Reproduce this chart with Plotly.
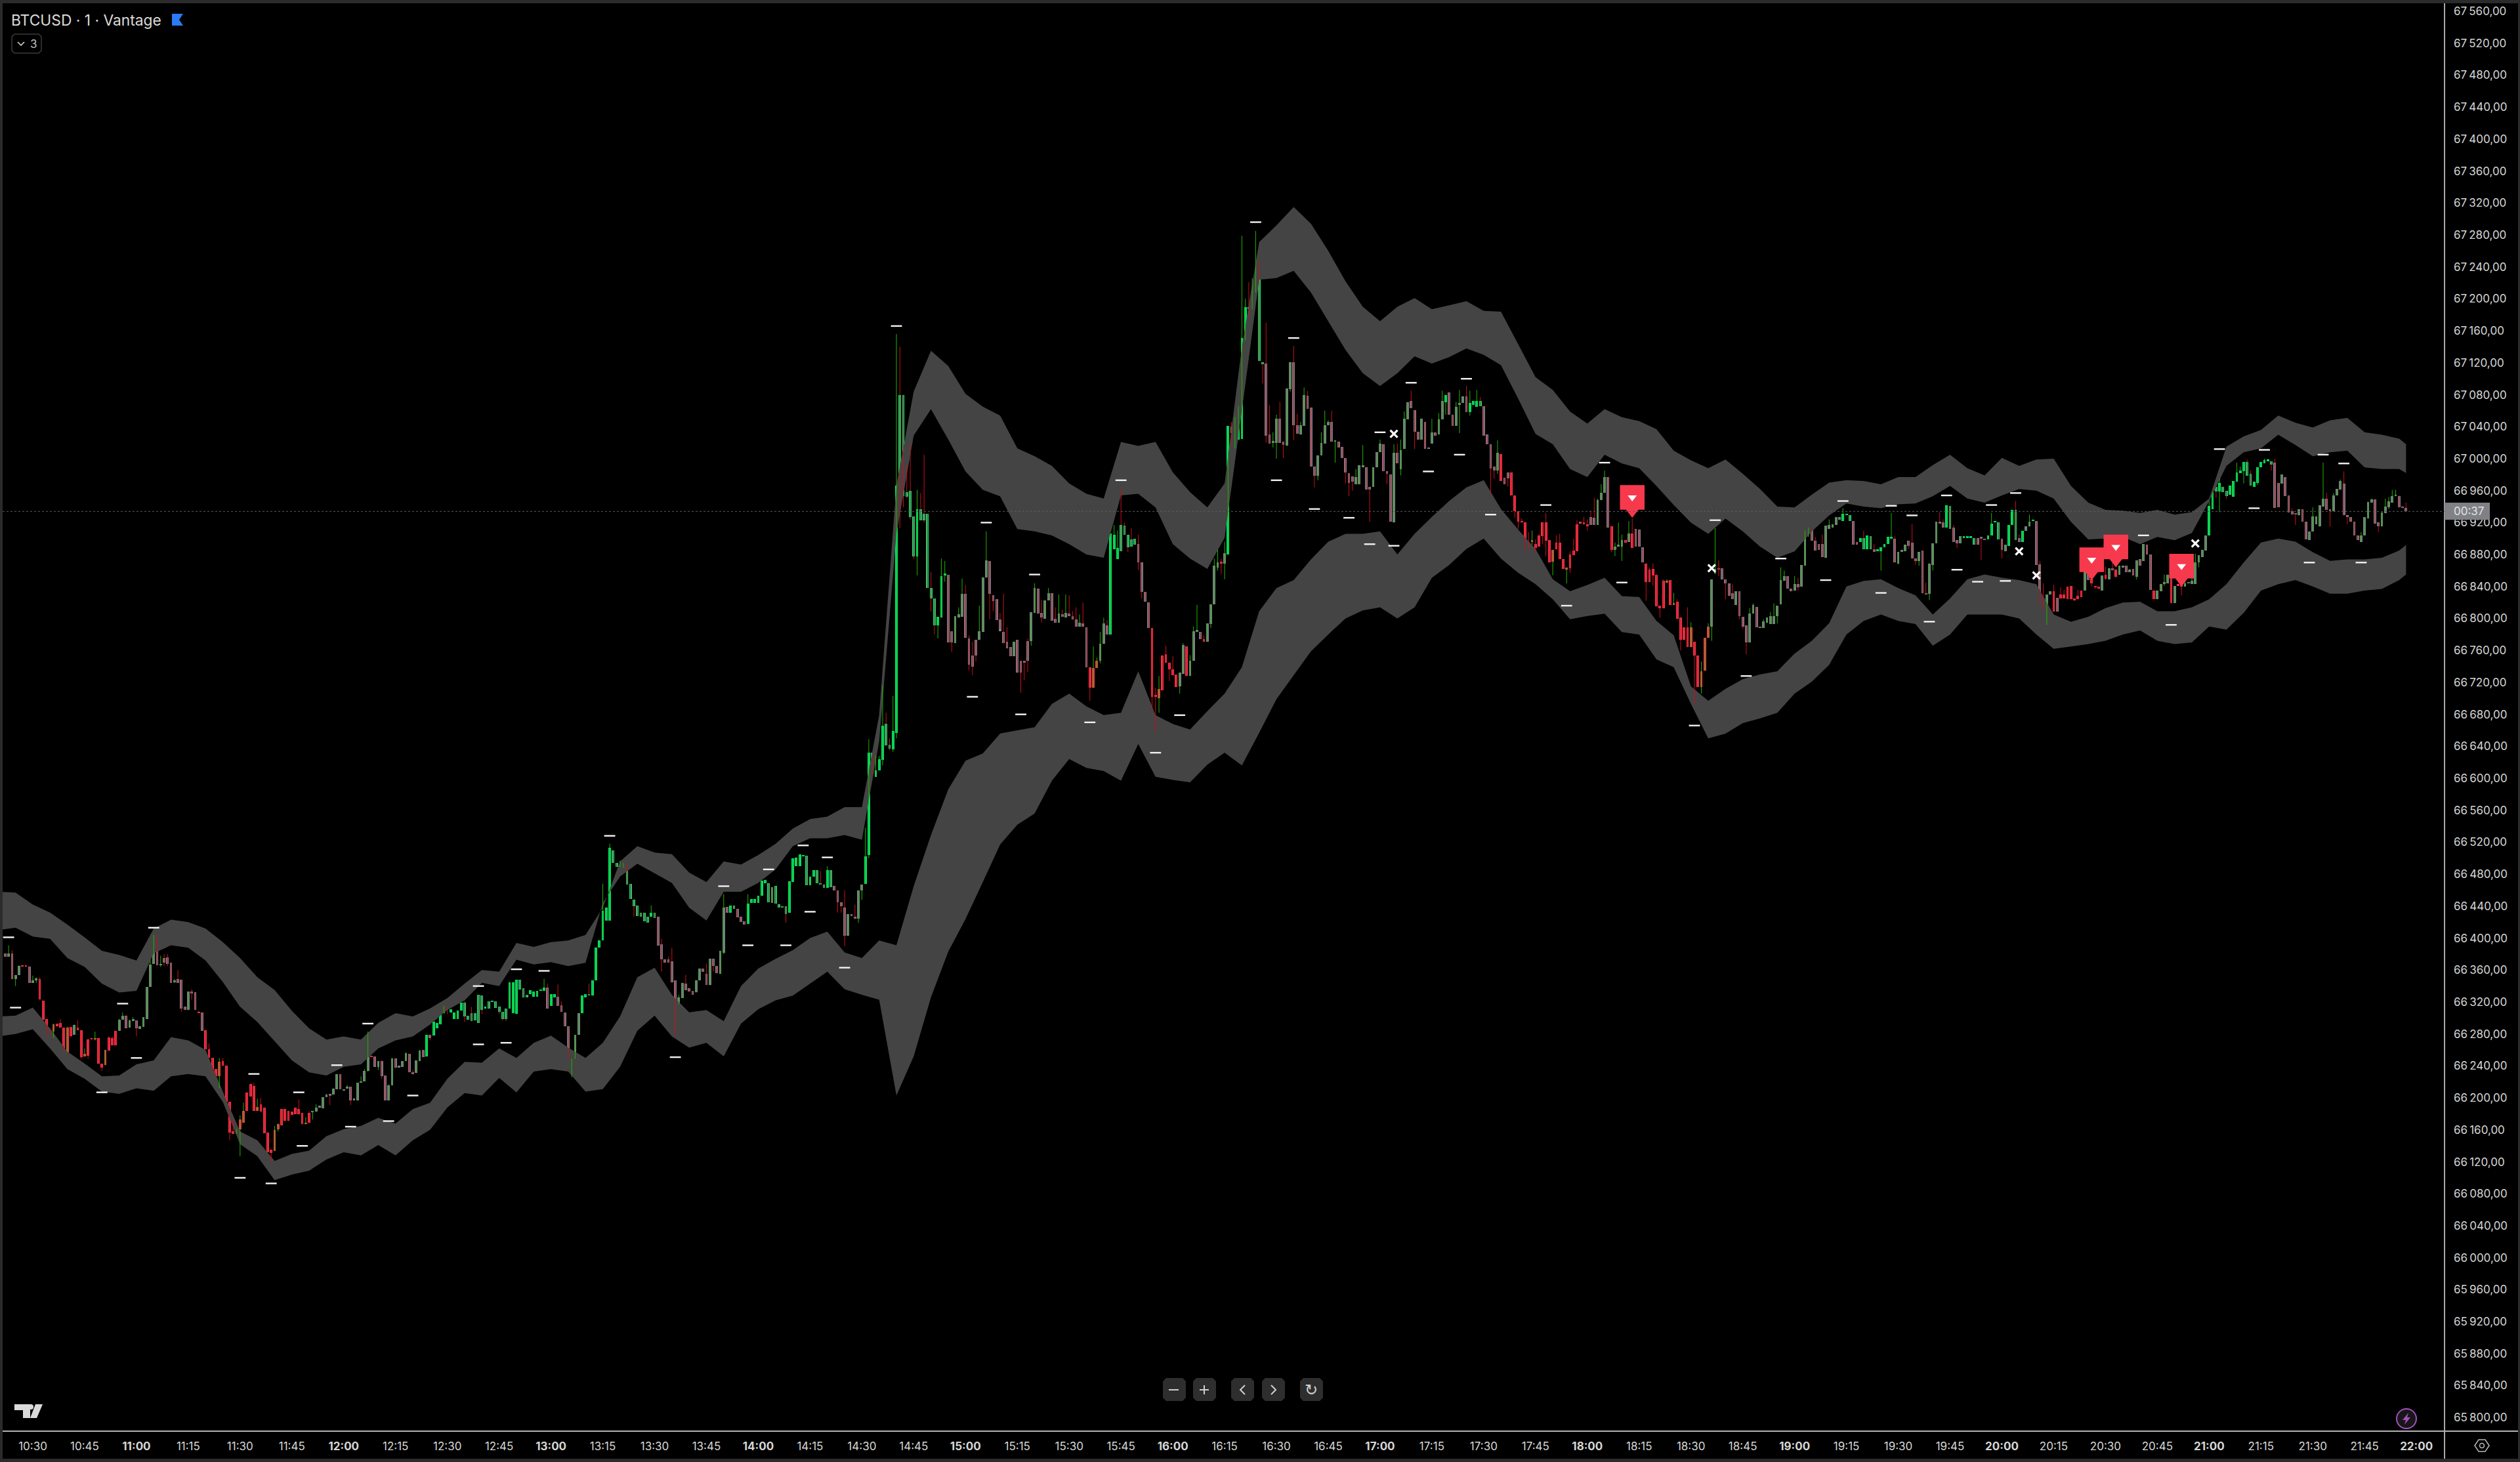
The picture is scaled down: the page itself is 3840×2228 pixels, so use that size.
import plotly.graph_objects as go

BASE = 66000  # all prices below are dollars above this base
G, R, N = "g", "r", "n"
LAST_PRICE = 66934
COUNTDOWN = "00:37"

# 1-minute candles per session: (open, close, body kind[, high[, low]]); high 0 = body top
start_10 = -8
h10 = [(381,377,N),(377,381,N,391),(381,349,N,385),(349,354,N,0,340),(354,365,N,366),(365,364,R),(365,364,R),(364,344,N,365),(344,347,N,353),(347,350,N,351,344),(349,323,R,351),(322,298,R),(299,277,R),(284,278,R,286),(283,292,R,293,275),(293,290,R),(294,288,R,299),(288,257,R),(257,288,R,289),(289,277,R,0,276),(279,291,N,292),(288,285,R,297),(285,251,R,0,249),(252,255,R,262),(273,253,R,274,249),(274,273,R),(273,274,R,283,272),(275,243,R),(243,238,R,0,234),(241,260,R),(276,259,R,277),(275,266,R,277),(284,266,R),(284,298,N,299),(298,303,N,307),(303,287,N,304),(288,297,N,298),(296,299,N,301)]
h11 = [(297,287,N,0,277),(286,290,N),(289,301,N),(299,339,N),(339,367,N,372),(368,400,N,404),(399,366,N,403),(366,367,N,378,364),(375,369,N,380,365),(376,368,N,380,365),(369,344,N),(345,347,N,349,344),(349,344,N,360),(348,312,N,0,308),(314,310,N),(310,333,N),(333,331,N,336,323),(332,310,N),(308,306,R,309),(307,284,N),(285,261,R),(261,250,R,268),(250,234,R,0,231),(236,227,R),(227,245,R,250,212),(246,240,R,250),(240,195,R),(195,157,R,0,147),(158,155,R,173),(155,161,R),(161,173,R,178,127),(169,184,R,194),(207,184,R),(217,202,R,218),(215,184,R,219),(184,189,R,199),(192,183,R,200),(188,156,R),(157,132,R),(135,131,R,0,120),(134,160,R,165),(161,167,R,168,158),(186,166,R),(186,171,R),(184,171,R),(183,179,R),(188,180,R),(186,180,R,198),(181,167,R),(167,169,R,176),(181,169,R,183),(182,184,N,0,173),(183,188,N,192),(188,188,N),(187,201,N),(201,204,N,205),(204,203,N,0,191),(204,212,N),(211,230,N),(230,211,N)]
h12 = [(209,211,N),(212,213,N,216),(214,197,N,0,191),(197,198,N),(197,219,N),(219,221,N,227),(221,234,N,236),(234,253,N,283,233),(252,251,R,253),(252,239,N),(239,246,N,0,235),(246,227,N,247,224),(228,197,N),(197,216,N,217),(216,249,N,250),(249,238,N,0,237),(238,239,N),(239,246,N),(246,256,N,257),(255,232,N),(232,230,N,235),(231,247,N),(246,259,N,260),(260,251,N),(252,279,G),(279,275,N,0,272),(278,295,G),(287,294,G),(292,304,G),(306,313,G,315),(312,311,N,314,305),(307,311,G),(299,307,G),(299,309,G),(309,319,G),(319,302,G,321,295),(303,298,G),(306,296,G,314),(306,297,G),(329,294,G),(328,310,G,0,305),(312,312,G),(321,312,G),(321,320,G),(321,313,G),(314,308,G,0,305),(308,299,G,0,297),(312,299,G,0,296),(312,345,G),(306,345,G),(305,348,G),(348,336,G),(337,326,G),(329,326,G),(330,335,G),(327,333,G),(327,334,G),(334,335,G),(334,338,G,349),(338,312,N,343)]
h13 = [(315,330,G),(326,330,G),(327,315,N,342),(316,308,N,321),(307,290,N),(290,248,N),(248,249,N,0,226),(249,279,N),(279,306,N),(306,328,G),(326,330,G),(330,328,G,343),(328,347,G),(347,388,G),(388,397,G),(397,434,G,468),(422,438,G),(422,513,G,518),(510,494,G),(494,489,G),(489,490,G,497),(488,494,G),(492,467,G),(468,449,G),(448,440,G,0,427),(441,428,G),(432,427,G),(432,421,G),(427,419,G),(427,432,G,441),(432,425,G),(427,391,N),(392,373,N,399,358),(373,369,N),(373,369,N,377),(371,345,N,388),(347,317,N,0,278),(317,326,N,329),(325,344,N),(343,335,N,354),(337,333,N),(334,329,N),(332,347,N),(347,362,N),(362,358,N),(355,341,N,368),(341,374,N),(374,365,N,0,358),(365,356,N),(355,384,N),(382,438,N,455,380),(439,432,N),(432,441,G),(441,437,G),(437,426,N),(427,420,N),(421,417,N),(418,443,G,455),(444,449,G),(444,449,G)]
h14 = [(444,453,G),(453,472,G),(469,473,G),(469,445,G),(464,444,G),(465,443,G),(442,438,G),(440,438,G),(440,430,G,0,419),(432,471,G),(470,500,G),(490,501,G),(490,505,G),(502,504,G),(503,466,G),(466,477,G),(477,485,G),(485,469,G),(469,467,G,484),(467,463,G),(463,485,G,490),(485,464,G),(465,460,N),(460,445,N,0,432),(445,440,N,0,432),(438,403,N,460,390),(403,430,N),(430,428,N),(427,424,N,442),(424,460,N,0,419),(460,467,N,0,448),(468,502,G,538),(504,632,G,649,500),(632,608,G,0,603),(602,610,G,628),(610,624,G,628),(623,666,G,716,616),(668,641,G,682),(642,637,G,650,635),(636,659,G,703,633),(657,966,G,1156,650),(1080,971,G,1140,913),(1080,953,G,0,939),(958,952,G,993,950),(960,927,G,1019,924),(928,878,G,0,874),(878,937,G,961,854),(937,923,G,957),(931,923,G,1005,920),(931,838,G),(838,825,G,858,809),(825,791,G,0,780),(791,802,G,0,775),(801,853,G,875),(854,856,G,872,846),(855,770,N),(784,770,N,0,758),(769,803,N),(801,805,N,814),(802,831,N,850)]
h15 = [(831,776,N,842),(775,742,N,779,735),(754,740,N,771,729),(773,754,N,0,746),(773,784,N,816),(783,851,N),(851,873,N,909),(872,831,N,0,799),(829,822,N,0,809),(824,798,N),(799,784,N,807,787),(783,769,N,831),(771,763,N,789),(764,753,N),(753,771,N),(773,732,N),(747,732,N,0,707),(747,745,N,0,723),(772,747,N,775,733),(772,808,N,0,766),(807,838,N,844),(837,806,N),(807,801,N,823,795),(800,823,N),(823,832,N,838),(832,797,N),(800,795,N,814),(795,806,N,830),(805,802,N,811),(801,807,N,830),(806,803,N,829),(803,799,N,809),(799,790,N,814),(790,795,N,805),(794,790,N,820),(789,739,N),(739,713,R,0,697),(713,738,R,765),(738,747,R,751),(747,768,N,783,744),(768,794,N,801),(791,780,N,798),(780,906,G),(887,905,G,917),(874,888,G,910),(917,884,G,962),(916,905,G,920),(905,889,G,0,883),(899,890,G,913),(900,892,G),(893,870,N,905,861),(870,833,N,0,825),(833,821,N),(820,788,N),(788,702,R,0,686),(704,702,R,713,658),(700,712,R,728,682),(754,710,R),(755,745,R,766),(745,736,R,0,722)]
h16 = [(736,729,R,753),(730,714,R),(715,732,N,0,706),(731,767,N,769),(765,728,R),(728,747,N,754),(747,784,N,790),(783,786,N,817),(783,774,N),(774,771,R,779),(771,794,N),(793,818,N,0,788),(818,866,N,875),(864,870,N,886,860),(870,869,R,875,856),(869,882,N,896,849),(880,1041,G),(1040,1032,N,1046,1016),(1032,1052,G,0,1013),(1024,1051,G,1066),(1025,1151,G,1279),(1151,1190,G,1200,1148),(1190,1187,G,1221,1175),(1187,1209,G,1226),(1208,1233,G,1285),(1233,1122,G,1247),(1121,1118,G,0,1094),(1119,1029,N,1170,1020),(1030,1019,N,1067),(1020,1020,N,1033,1014),(1020,1050,N,1055,1000),(1050,1020,N,1071),(1021,1017,N,0,1001),(1016,1088,N),(1087,1121,N,0,1084),(1121,1042,N,1141,1023),(1042,1031,N,1056),(1030,1042,N,1046),(1041,1080,N,1089),(1079,1062,N,1085),(1064,990,N),(990,979,N,0,964),(979,1004,N,0,973),(1004,1020,N,1033),(1019,1042,N,1060),(1042,1046,N,1048),(1046,1021,N,1060),(1021,1021,N,1023,995),(1021,1014,N),(1015,1001,N),(1001,983,N,0,969),(982,970,N,0,953),(978,971,N,0,960),(968,977,N,987),(968,992,N),(989,992,N,1017),(989,961,N),(965,961,N,0,921),(965,989,N),(989,1008,N)]
h17 = [(1008,1019,N,1024),(1018,984,N),(984,981,N,0,968),(980,921,N),(920,1007,N,1018),(1007,994,N,1019),(987,1011,N,1024,979),(1012,1050,N,1059),(1049,1071,N),(1072,1063,N,1085),(1061,1034,N,0,1012),(1034,1024,N),(1024,1050,N),(1046,1012,N),(1012,1014,N),(1019,1033,N,1050),(1033,1029,N),(1030,1049,N,1057),(1049,1072,N,1085),(1071,1080,G,0,1055),(1083,1055,N),(1055,1041,N),(1041,1065,N,1071),(1067,1070,N,1086,1032),(1070,1078,N),(1078,1058,N,1091),(1058,1070,G,1085,1054),(1067,1072,G),(1065,1072,G,1086),(1072,1066,G,1077),(1066,1029,N),(1030,1018,N),(1018,988,N,0,956),(990,985,N,0,975),(985,1007,N,1023,981),(1006,972,R),(976,968,N),(983,975,N,0,965),(983,954,R),(954,934,R,0,926),(934,921,R,0,912),(921,920,R,925),(920,886,R),(895,886,R,908),(896,896,R,910,892),(893,888,R,899,882),(904,890,R,906),(920,903,R,0,893),(920,897,R,932,878),(898,870,R),(871,886,R,0,854),(895,887,R,904),(895,874,R,906),(874,862,R),(861,864,R,0,844),(880,863,R,884,857),(885,879,R,900),(918,884,R,923),(919,919,R),(920,918,R,927)]
h18 = [(918,915,R,924,910),(927,917,N,935),(926,917,N,951),(917,948,N,950),(948,957,N,968),(957,977,N,985),(977,914,N),(915,886,R,0,883),(886,890,N,895,878),(890,890,N,920),(890,898,N,905,872),(898,895,R),(896,906,N,922),(906,888,R,925),(912,890,N),(911,890,N),(889,870,N),(869,846,R,0,822),(861,846,R,864),(862,854,R,869,841),(855,815,R),(816,813,R,0,801),(847,813,R,849),(845,847,R,849),(848,817,R),(817,818,R,832),(821,800,R,824),(801,773,R,0,760),(789,773,R),(789,764,R,814),(764,789,R,795),(771,754,R,0,693),(754,714,R),(714,734,R,746,706),(735,776,R),(776,790,R,794),(790,849,N,0,772),(856,862,N,913),(862,861,R,873,853),(863,849,N),(849,844,N,0,824),(844,828,N),(832,824,N,843),(817,834,N),(834,803,N,0,799),(802,790,N,0,787),(791,770,N,0,755),(770,806,N,813),(806,817,N,819),(814,789,N),(790,788,N),(788,796,N,799),(795,801,N),(793,803,N,808),(793,803,N,819),(803,816,N,0,794),(818,848,N,864),(847,853,N,860),(853,837,N),(837,834,N)]
h19 = [(835,843,N,853),(843,839,N,851,835),(840,867,N),(866,910,N),(909,912,N,914,902),(912,897,N),(897,885,N,902),(893,886,N),(893,877,N,905),(876,916,N),(912,917,N,924),(914,918,N),(917,927,N),(924,927,N),(922,931,G,938),(929,931,G),(929,922,G),(922,892,N),(896,892,N),(896,901,G),(901,887,G,910),(887,904,G),(903,887,G),(887,883,N,893),(884,887,G),(884,889,G,0,860),(889,893,G),(893,902,G),(900,902,G,932),(900,870,N,903),(869,883,N,0,868),(883,886,N),(884,892,N),(897,891,N,0,887),(895,875,N,918),(875,872,N,0,867),(872,883,N,0,866),(885,832,N),(832,830,N,845),(831,869,N,0,823),(867,894,N,0,860),(894,921,N),(921,919,N,933),(920,914,N,924),(914,942,G),(941,912,G),(914,896,N,917),(898,894,N,0,888),(894,903,N),(901,903,G),(901,903,G),(901,902,G),(901,892,G),(901,892,N),(902,900,N,0,873),(900,898,N),(899,904,G),(904,919,G,932),(920,920,G),(920,899,G)]
h20 = [(900,886,N,0,875),(884,892,N),(891,917,G),(917,936,G),(936,898,G,947),(901,896,N,905),(896,910,G),(910,915,N),(915,921,N,930),(922,922,G,924),(922,867,N),(868,825,N,872,817),(825,810,R,844),(811,830,N,0,792),(830,834,N),(834,809,R,842),(826,809,N),(830,825,R,839),(830,825,R,836),(840,824,R),(841,824,R),(825,823,R),(828,824,R,836),(835,827,R),(835,859,N),(859,848,N),(850,844,R,0,840),(841,839,R,0,837),(840,837,R),(835,854,N),(855,850,R,865,848),(849,863,N),(863,860,N,870),(861,852,R,0,851),(855,866,N),(864,866,N),(866,858,N),(858,861,N,862),(862,854,N),(852,873,N,0,849),(874,866,N),(872,893,N),(892,880,N),(880,836,N),(835,824,R),(824,835,N),(834,843,N),(843,846,N,855,841),(844,855,N),(851,819,R),(819,841,N),(841,841,R),(841,840,R,0,829),(840,844,N,867),(844,845,N),(843,847,N,851),(843,870,N,881),(870,879,N,0,864),(877,886,N),(885,904,N)]
h21 = [(904,941,G,947),(937,958,G),(965,959,G,0,951),(959,970,G,975,933),(965,958,G),(960,953,G,0,950),(955,966,G),(952,972,G),(971,983,G,995),(982,985,G,990),(984,996,G,0,969),(996,979,G,999),(981,966,G,985),(965,971,G),(970,989,G,0,967),(989,996,G),(994,998,G,1000),(997,997,G),(997,993,G,0,985),(995,938,N,1000),(970,939,N),(969,980,N),(977,953,N),(954,933,N),(934,930,N,938),(932,930,N,0,917),(929,937,N),(937,921,N),(921,899,N),(898,909,N),(909,928,N,939),(918,928,N),(915,942,N),(940,950,N,995),(950,936,N,957),(937,934,N,0,915),(934,954,N,957),(954,962,N),(961,972,N,974),(969,929,N,984),(928,927,N,0,918),(927,921,N),(921,904,N),(904,898,N),(896,904,N,908),(904,927,N),(925,946,N),(945,949,N,950),(949,919,N),(920,915,N,0,908),(915,933,N),(932,940,N,950),(939,947,N,952,937),(945,953,N,961),(953,953,N,961),(953,939,N,954),(939,938,N,941),(938,934,N,945)]

sessions = [(start_10, h10), (30, h11), (90, h12), (150, h13), (210, h14), (270, h15),
            (330, h16), (390, h17), (450, h18), (510, h19), (570, h20), (630, h21)]

# volatility band edges, sampled every 5 minutes from -10 to 685, then the last bar
band_minutes = list(range(-10, 690, 5)) + [687]
upper_top = [458,457,442,432,417,401,384,379,372,412,423,420,412,395,375,351,335,309,287,273,277,273,294,306,302,312,325,
             343,360,358,394,389,395,397,404,438,496,515,507,505,482,470,496,492,504,518,537,549,552,564,564,679,
             967,1084,1135,1116,1081,1065,1054,1013,1003,991,969,956,950,1021,1016,1021,983,958,939,969,
             1140,1271,1292,1315,1294,1260,1222,1190,1172,1190,1201,1187,1192,1197,1185,1184,1143,1102,1086,1059,1044,1062,1052,1047,
             1037,1010,998,988,999,981,962,940,939,955,970,973,972,968,977,977,992,1005,988,
             979,1001,991,999,1000,966,945,936,935,932,936,930,933,950,
             1015,1028,1036,1054,1045,1039,1048,1051,1033,1030,1025,1018]
upper_bot = [410,413,402,399,375,364,343,332,334,381,391,388,372,345,314,295,271,247,232,228,239,242,262,272,277,292,310,
             322,344,340,373,367,370,365,369,444,477,493,481,469,438,422,458,458,469,486,515,525,525,529,523,646,
             906,1029,1062,1024,984,961,953,912,909,904,893,880,876,954,956,939,893,875,862,901,
             1060,1224,1226,1235,1208,1172,1136,1107,1091,1107,1128,1119,1127,1138,1130,1117,1075,1031,1018,987,977,1005,994,988,
             966,942,920,906,925,909,890,876,884,909,929,944,940,938,943,944,953,966,950,
             945,954,962,960,950,921,899,900,902,893,902,898,907,947,
             991,1008,1013,1030,1017,1003,1008,1010,989,987,987,982]
lower_top = [302,303,313,287,258,243,227,228,242,247,276,272,260,208,158,147,121,130,134,152,161,165,175,168,186,194,224,
             245,244,262,250,269,278,263,250,269,302,351,363,329,307,310,296,340,362,374,385,400,408,382,375,397,
             391,465,529,586,622,631,656,660,664,693,706,690,679,682,734,679,668,661,684,706,
             739,809,838,848,874,896,906,906,909,880,906,927,947,964,973,937,911,887,849,834,842,851,828,827,
             797,779,715,697,712,724,730,734,756,772,794,840,847,849,838,829,805,825,849,
             855,851,848,843,805,796,802,813,820,821,809,809,814,824,
             843,870,895,900,896,883,872,874,874,876,885,892]
lower_bot = [277,280,286,262,236,224,208,205,212,209,227,230,227,195,142,127,97,104,109,123,132,128,141,128,147,160,188,
             206,203,225,207,233,236,233,208,211,239,284,303,277,263,269,252,293,311,322,328,343,358,336,329,323,
             203,252,326,383,424,470,517,542,556,597,624,613,609,597,643,602,598,595,617,632,
             616,657,699,729,759,780,800,810,814,800,814,851,867,887,900,875,857,843,824,799,803,806,783,780,
             749,739,693,650,656,669,675,682,706,721,742,780,797,805,797,793,766,780,805,
             805,805,800,780,762,765,768,772,780,785,772,768,770,790,
             786,807,835,843,848,840,831,831,835,837,848,855]

# pivot dashes (minute, price above base)
pivot_minutes = [-7,-5,26,30,35,20,64,77,60,69,78,88,92,97,103,110,129,129,137,140,148,167,186,200,207,213,218,223,225,230,235,250,276,290,315,272,286,306,325,332,354,365,360,371,381,390,387,394,399,404,413,415,422,438,455,460,444,481,487,496,506,519,524,535,538,544,549,554,557,563,574,567,571,611,619,633,646,643,663,669,659,674]
pivot_prices = [401,313,318,250,413,207,230,207,100,93,140,241,164,293,171,203,340,267,269,361,359,528,251,465,391,486,391,516,433,501,363,1166,920,855,973,702,680,670,632,679,1296,1151,973,937,926,1033,893,891,1095,984,1005,1100,930,942,995,845,816,666,923,728,875,848,947,832,941,929,796,954,861,846,957,942,847,904,792,1012,1011,938,1005,994,870,870]

cross_minutes = [394, 486, 575, 580, 626]
cross_prices = [1031, 863, 884, 854, 894]

flag_minutes = [463, 596, 603, 622]
flag_tips = [927, 849, 865, 841]

hours_ticks = list(range(0, 691, 15))
price_ticks = list(range(65800, 67561, 40))

W, H = 3840, 2228
L, RT, T, B = 4, 3725, 6, 2181
PW, PH = RT - L, B - T
xr = [(L - 50) / 5.264, (RT - 50) / 5.264]
yr = [BASE + 1574 - 0.8212 * B, BASE + 1574 - 0.8212 * T]


def px(x, y):
    return (x - L) / PW, 1 - (y - T) / PH


# build candle columns
xs, bases, sizes, cols, gw_x, gw_y, rw_x, rw_y = [], [], [], [], [], [], [], []
KIND = {G: "#00E676", R: "#F7364B", N: "#7C7F8A"}
for start, rows in sessions:
    for i, row in enumerate(rows):
        o, c, k = row[:3]
        hi = row[3] if len(row) > 3 and row[3] else max(o, c)
        lo = row[4] if len(row) > 4 and row[4] else min(o, c)
        m = start + i
        xs.append(m)
        bases.append(BASE + min(o, c))
        sizes.append(max(abs(c - o), 2))
        cols.append(KIND[k])
        wx, wy = (gw_x, gw_y) if c >= o else (rw_x, rw_y)
        wx += [m, m, None]
        wy += [BASE + hi, BASE + lo, None]

fig = go.Figure()
BAND = "#444444"
for top, bot in ((upper_top, upper_bot), (lower_top, lower_bot)):
    fig.add_trace(go.Scatter(
        x=band_minutes + band_minutes[::-1],
        y=[BASE + v for v in top] + [BASE + v for v in bot[::-1]],
        mode="lines", fill="toself", fillcolor=BAND, line=dict(width=0, color=BAND),
        hoverinfo="skip", showlegend=False))
fig.add_trace(go.Scatter(x=gw_x, y=gw_y, mode="lines", line=dict(color="#22B200", width=1),
                         hoverinfo="skip", showlegend=False))
fig.add_trace(go.Scatter(x=rw_x, y=rw_y, mode="lines", line=dict(color="#C8101C", width=1),
                         hoverinfo="skip", showlegend=False))
fig.add_trace(go.Bar(x=xs, y=sizes, base=bases, width=0.72, marker=dict(color=cols, line=dict(width=0)),
                     hoverinfo="skip", showlegend=False))
fig.add_trace(go.Scatter(x=pivot_minutes, y=[BASE + p for p in pivot_prices], mode="markers",
                         marker=dict(symbol="line-ew", size=12, line=dict(width=2.4, color="#F2F2F2")),
                         hoverinfo="skip", showlegend=False))
fig.add_trace(go.Scatter(x=cross_minutes, y=[BASE + p for p in cross_prices], mode="markers",
                         marker=dict(symbol="x-thin", size=11, line=dict(width=3.2, color="#FFFFFF")),
                         hoverinfo="skip", showlegend=False))
FLAG = "#F7394D"
fig.add_trace(go.Scatter(x=flag_minutes, y=[BASE + t + 9 for t in flag_tips], mode="markers",
                         marker=dict(symbol="triangle-down", size=24, color=FLAG),
                         hoverinfo="skip", showlegend=False))
fig.add_trace(go.Scatter(x=flag_minutes, y=[BASE + t + 24.5 for t in flag_tips], mode="markers",
                         marker=dict(symbol="square", size=36, color=FLAG, line=dict(width=1.5, color=FLAG)),
                         hoverinfo="skip", showlegend=False))
fig.add_trace(go.Scatter(x=flag_minutes, y=[BASE + t + 24.5 for t in flag_tips], mode="markers",
                         marker=dict(symbol="triangle-down", size=12, color="#FFFFFF"),
                         hoverinfo="skip", showlegend=False))

shapes = []


def rect(x0, y0, x1, y1, fill, line=None, layer="above"):
    a, b = px(x0, y0)
    c, d = px(x1, y1)
    shapes.append(dict(type="rect", xref="paper", yref="paper", x0=a, x1=c, y0=b, y1=d, fillcolor=fill,
                       line=dict(width=1.5 if line else 0, color=line or fill), layer=layer))


def path(points, stroke=None, fill=None, width=2, close=False):
    s = ""
    for i, (x, y) in enumerate(points):
        a, b = px(x, y)
        s += ("M" if i == 0 else "L") + f"{a:.6f},{b:.6f} "
    if close:
        s += "Z"
    shapes.append(dict(type="path", xref="paper", yref="paper", path=s, fillcolor=fill or "rgba(0,0,0,0)",
                       line=dict(width=width if stroke else 0, color=stroke or "rgba(0,0,0,0)"), layer="above"))


def rrect(x0, y0, x1, y1, r, fill, stroke=None):
    pts = [(x0 + r, y0), (x1 - r, y0), (x1, y0 + r), (x1, y1 - r), (x1 - r, y1), (x0 + r, y1), (x0, y1 - r), (x0, y0 + r)]
    path(pts, stroke=stroke, fill=fill, width=1.5, close=True)


def line(x0, y0, x1, y1, color, width=2):
    path([(x0, y0), (x1, y1)], stroke=color, width=width)


# frame
EDGE = "#2B2B2B"
rect(0, 0, L, H, EDGE)
rect(0, 0, W, T - 1, EDGE)
rect(0, 2223, W, H, EDGE)
rect(3837, 0, W, H, EDGE)
line(RT, 5, RT, 2223, "#A9A9A9", 2)
line(L, B, 3837, B, "#B4B4B4", 2)
# current price dotted line
shapes.append(dict(type="line", xref="paper", yref="y", x0=0, x1=1, y0=LAST_PRICE, y1=LAST_PRICE,
                   line=dict(color="#5C5C5C", width=1, dash="dot"), layer="above"))
rect(RT, 766, 3794, 792, "#808187")
# blue flag
path([(262, 21), (279, 21), (273, 30), (279, 39), (262, 39)], fill="#2B7BF6", close=True)
# indicator toggle box + chevron
rrect(18, 52, 63, 81, 4, "rgba(0,0,0,0)", stroke="#3A3A3A")
path([(27, 64), (32, 69), (37, 64)], stroke="#CFCFCF", width=1.6)
# logo
path([(22, 2140), (46, 2140), (46, 2161), (35, 2161), (35, 2149), (22, 2149)], fill="#DADADA", close=True)
path([(54, 2140), (65, 2140), (56, 2161), (46, 2161)], fill="#DADADA", close=True)
shapes.append(dict(type="circle", xref="paper", yref="paper",
                   x0=px(43, 0)[0], x1=px(51, 0)[0], y0=px(0, 2148)[1], y1=px(0, 2140)[1],
                   fillcolor="#DADADA", line=dict(width=0), layer="above"))
# navigation buttons
BTN = "#2E2E2E"
for x0 in (1772, 1818, 1876, 1923, 1981):
    rrect(x0, 2100, x0 + 35, 2135, 5, BTN)
GL = "#CFCFCF"
line(1781, 2118, 1796, 2118, GL, 2)
line(1828, 2118, 1842, 2118, GL, 2)
line(1835, 2111, 1835, 2125, GL, 2)
path([(1897, 2111), (1890, 2118), (1897, 2125)], stroke=GL, width=2)
path([(1937, 2111), (1944, 2118), (1937, 2125)], stroke=GL, width=2)
# lightning badge
cx, cy, r = 3667, 2162, 15
shapes.append(dict(type="circle", xref="paper", yref="paper", x0=px(cx - r, 0)[0], x1=px(cx + r, 0)[0],
                   y0=px(0, cy + r)[1], y1=px(0, cy - r)[1], fillcolor="#171717",
                   line=dict(width=2, color="#A64FC4"), layer="above"))
path([(3670, 2153), (3661, 2164), (3666, 2164), (3664, 2171), (3673, 2160), (3668, 2160)], fill="#A64FC4", close=True)
# settings hexagon
hx, hy = 3782, 2203
path([(hx - 11, hy), (hx - 5, hy - 9), (hx + 5, hy - 9), (hx + 11, hy), (hx + 5, hy + 9), (hx - 5, hy + 9)],
     stroke="#B8B8B8", width=1.5, close=True)
shapes.append(dict(type="circle", xref="paper", yref="paper", x0=px(hx - 3.5, 0)[0], x1=px(hx + 3.5, 0)[0],
                   y0=px(0, hy + 3.5)[1], y1=px(0, hy - 3.5)[1], line=dict(width=1.5, color="#B8B8B8"), layer="above"))

FONT = "Inter, 'Noto Sans', sans-serif"


def note(x, y, text, size, color, anchor="left", family=FONT):
    a, b = px(x, y)
    return dict(xref="paper", yref="paper", x=a, y=b, text=text, showarrow=False, xanchor=anchor, yanchor="middle",
                font=dict(family=family, size=size, color=color), borderpad=0, borderwidth=0)


annotations = [
    note(17, 30, "BTCUSD · 1 · Vantage", 22.8, "#DADADA"),
    note(46, 67, "3", 17, "#BDBDBD"),
    note(3739, 779, COUNTDOWN, 17, "#E2E2E2"),
    note(1998, 2118, "↻", 24, "#CFCFCF", anchor="center", family="DejaVu Sans"),
]

fig.update_layout(
    width=W, height=H, autosize=False, paper_bgcolor="#000000", plot_bgcolor="#000000",
    margin=dict(l=L, r=W - RT, t=T, b=H - B, pad=0), showlegend=False, barmode="overlay", bargap=0,
    hovermode=False, dragmode=False, shapes=shapes, annotations=annotations,
    xaxis=dict(range=xr, tickmode="array", tickvals=hours_ticks,
               ticktext=[(f"<b>{10 + (t + 30) // 60}:{(t + 30) % 60:02d}</b>" if (t + 30) % 60 == 0
                          else f"{10 + (t + 30) // 60}:{(t + 30) % 60:02d}") for t in hours_ticks],
               tickfont=dict(family=FONT, size=17, color="#D6D6D6"), showgrid=False, zeroline=False,
               showline=False, ticks="", ticklabelstandoff=11, tickangle=0, fixedrange=True),
    yaxis=dict(range=yr, side="right", tickmode="array", tickvals=price_ticks,
               ticktext=[f"{p // 1000}\u2009{p % 1000:03d},00" for p in price_ticks],
               tickfont=dict(family=FONT, size=17, color="#D6D6D6"), showgrid=False, zeroline=False,
               showline=False, ticks="", ticklabelstandoff=13, fixedrange=True),
)

fig.write_html("out.html", config={"displayModeBar": False, "staticPlot": False},
               post_script="document.body.style.margin='0';document.documentElement.style.overflow='hidden';")
